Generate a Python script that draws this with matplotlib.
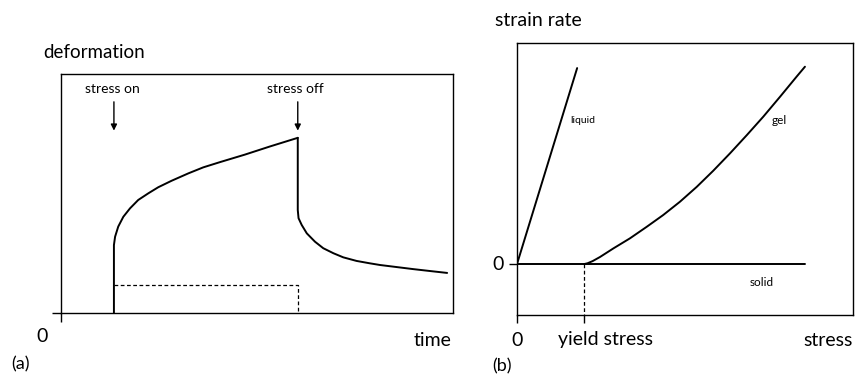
import matplotlib
matplotlib.use("Agg")
import matplotlib.pyplot as plt

plt.rcParams['font.family'] = ['Lato', 'DejaVu Sans']

# ---------------- data (a): creep curve ----------------
time_on = [1.35, 1.35, 1.38, 1.46, 1.59, 1.76, 1.97, 2.23, 2.48, 2.82, 3.25, 3.63,
           4.06, 4.69, 5.33, 6.04]
deform_on = [0.0, 2.83, 3.18, 3.60, 4.01, 4.36, 4.71, 4.99, 5.24, 5.51, 5.82, 6.07,
             6.29, 6.60, 6.94, 7.30]
time_off = [6.04, 6.04, 6.06, 6.14, 6.27, 6.48, 6.69, 6.95, 7.20, 7.54, 7.88, 8.14,
            8.98, 9.41, 9.85]
deform_off = [7.30, 4.29, 3.95, 3.67, 3.32, 2.97, 2.70, 2.49, 2.32, 2.17, 2.07, 2.00,
              1.83, 1.75, 1.67]
elastic_level = 1.17
stress_on_t = 1.35
stress_off_t = 6.04

# ---------------- data (b): flow curves ----------------
liquid_stress = [0.0, 1.79]
liquid_rate = [0.0, 10.0]
gel_stress = [2.0, 2.1, 2.25, 2.47, 2.87, 3.36, 3.86, 4.35, 4.85, 5.35, 5.84, 6.34,
              6.84, 7.33, 7.83, 8.32, 8.57]
gel_rate = [0.0, 0.04, 0.15, 0.36, 0.80, 1.31, 1.90, 2.50, 3.18, 3.94, 4.76, 5.65,
            6.58, 7.52, 8.54, 9.56, 10.07]
solid_stress = [0.0, 8.57]
solid_rate = [0.0, 0.0]
yield_stress = 2.0

W, H = 856, 380
fig = plt.figure(figsize=(W / 100, H / 100), dpi=100)

def px_axes(l, r, t, b):
    return fig.add_axes([l / W, 1 - b / H, (r - l) / W, (b - t) / H])

lw_box = 1.0
lw_curve = 1.4
line_kw = dict(color='black', lw=lw_curve, solid_joinstyle='round', solid_capstyle='round')

# ---------------- panel (a) ----------------
ax1 = px_axes(61, 453, 74, 313)
ax1.set_xlim(0, 10.0)
ax1.set_ylim(0, 9.96)
for s in ax1.spines.values():
    s.set_linewidth(lw_box)
ax1.set_xticks([0])
ax1.set_yticks([0])
ax1.tick_params(length=6.5, width=lw_box, direction='out', labelbottom=False, labelleft=False)

ax1.plot(time_on, deform_on, **line_kw)
ax1.plot(time_off, deform_off, **line_kw)
ax1.plot([stress_on_t, stress_off_t, stress_off_t], [elastic_level, elastic_level, 0],
         color='black', lw=0.9, ls=(0, (3, 2)))

for tpos, lab in [(stress_on_t, 'stress on'), (stress_off_t, 'stress off')]:
    ax1.annotate('', xy=(tpos, 7.6), xytext=(tpos, 8.8),
                 arrowprops=dict(arrowstyle='-|>', color='black', lw=1.0,
                                 mutation_scale=9, shrinkA=0, shrinkB=0))
    ax1.text(tpos - 0.05, 9.35, lab, ha='center', va='center', fontsize=10)

fig.text(43 / W, 1 - 53 / H, 'deformation', ha='left', va='center', fontsize=13.5)
fig.text(42 / W, 1 - 336 / H, '0', ha='center', va='center', fontsize=14)
fig.text(433 / W, 1 - 340 / H, 'time', ha='center', va='center', fontsize=14)
fig.text(21 / W, 1 - 364 / H, '(a)', ha='center', va='center', fontsize=13)

# ---------------- panel (b) ----------------
ax2 = px_axes(517, 853, 43, 315)
ax2.set_xlim(0, 10.0)
ax2.set_ylim(-2.6, 11.28)
for s in ax2.spines.values():
    s.set_linewidth(lw_box)
ax2.set_xticks([0, yield_stress])
ax2.set_yticks([0])
ax2.tick_params(length=5.5, width=lw_box, direction='out', labelbottom=False, labelleft=False)

ax2.plot(liquid_stress, liquid_rate, **line_kw)
ax2.plot(gel_stress, gel_rate, **line_kw)
ax2.plot(solid_stress, solid_rate, **line_kw)
ax2.plot([yield_stress, yield_stress], [0, -2.6], color='black', lw=0.9, ls=(0, (3, 2)))

ax2.text(1.58, 7.35, 'liquid', ha='left', va='center', fontsize=7.5)
ax2.text(7.59, 7.35, 'gel', ha='left', va='center', fontsize=8.5)
ax2.text(6.93, -0.92, 'solid', ha='left', va='center', fontsize=8.5)

fig.text(495 / W, 1 - 20 / H, 'strain rate', ha='left', va='center', fontsize=14)
fig.text(498 / W, 1 - 264 / H, '0', ha='center', va='center', fontsize=14)
fig.text(517 / W, 1 - 340 / H, '0', ha='center', va='center', fontsize=14)
fig.text(605 / W, 1 - 340 / H, 'yield stress', ha='center', va='center', fontsize=14)
fig.text(828 / W, 1 - 340 / H, 'stress', ha='center', va='center', fontsize=14)
fig.text(502 / W, 1 - 366 / H, '(b)', ha='center', va='center', fontsize=13)

fig.savefig('out.png', dpi=100)
